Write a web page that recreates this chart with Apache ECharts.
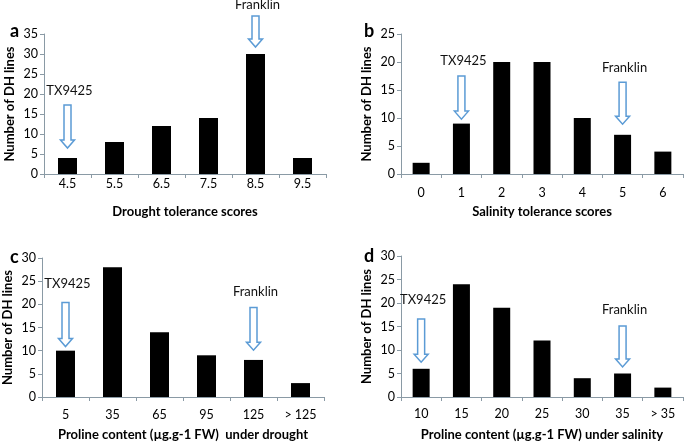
<!DOCTYPE html>
<html>
<head>
<meta charset="utf-8">
<script src="https://cdn.jsdelivr.net/npm/echarts@6/dist/echarts.min.js"></script>
<style>
html,body{margin:0;padding:0;background:#fff;}
#chart{width:685px;height:442px;}
</style>
</head>
<body>
<div id="chart"></div>
<script>
// ---- data ----
const catsA = ['4.5', '5.5', '6.5', '7.5', '8.5', '9.5'];
const valsA = [4, 8, 12, 14, 30, 4];
const catsB = ['0', '1', '2', '3', '4', '5', '6'];
const valsB = [2, 9, 20, 20, 10, 7, 4];
const catsC = ['5', '35', '65', '95', '125', '> 125'];
const valsC = [10, 28, 14, 9, 8, 3];
const catsD = ['10', '15', '20', '25', '30', '35', '> 35'];
const valsD = [6, 24, 19, 12, 4, 5, 2];
const yTicksA = [0, 5, 10, 15, 20, 25, 30, 35];
const yTicksB = [0, 5, 10, 15, 20, 25];
const yTicksC = [0, 5, 10, 15, 20, 25, 30];
const yTicksD = [0, 5, 10, 15, 20, 25, 30];
// annotation arrows: [category index, tip value, tail value, label value]
const arrowLabels = ['TX9425', 'Franklin'];
const arrowsA = [[0, 6.5, 17.25, 20.75], [4, 31.75, 39.5, 42.25]];
const arrowsB = [[1, 9.8, 17.5, 20.2], [5, 8.9, 16.4, 18.9]];
const arrowsC = [[0, 10.9, 20.4, 24.4], [4, 10.1, 19.3, 22.7]];
const arrowsD = [[0, 7.4, 16.6, 20.6], [5, 6.4, 15.1, 18.5]];
const xTitles = ['Drought tolerance scores', 'Salinity tolerance scores',
  'Proline content (\u00b5g.g-1 FW)  under drought', 'Proline content (\u00b5g.g-1 FW) under salinity'];
const yTitle = 'Number of DH lines';
const panelLetters = ['a', 'b', 'c', 'd'];

// ---- chart ----
const FONT = 'Lato, "Open Sans", sans-serif';
const AXIS_COLOR = '#8a9aa5';
const ARROW_COLOR = '#5b9bd5';

const panels = [
  {cats: catsA, vals: valsA, ticks: yTicksA, arrows: arrowsA, grid: {left: 44, top: 34, width: 282, height: 140}, barW: 19, lblMargin: 3},
  {cats: catsB, vals: valsB, ticks: yTicksB, arrows: arrowsB, grid: {left: 401, top: 34, width: 282, height: 140}, barW: 17, lblMargin: 12},
  {cats: catsC, vals: valsC, ticks: yTicksC, arrows: arrowsC, grid: {left: 42, top: 258, width: 282, height: 140}, barW: 19, lblMargin: 11},
  {cats: catsD, vals: valsD, ticks: yTicksD, arrows: arrowsD, grid: {left: 401, top: 256, width: 282, height: 141}, barW: 17, lblMargin: 10}
];
const letterPos = [[5, 17], [359, 17], [5, 243], [359, 242]];

function arrowRender(params, api) {
  const idx = api.value(0);
  const tip = api.coord([idx, api.value(1)]);
  const tail = api.coord([idx, api.value(2)]);
  const lab = api.coord([idx, api.value(3)]);
  const x = tip[0];
  const ty = tip[1], hy = tip[1] - 8, sy = tail[1];
  return {
    type: 'group',
    children: [
      {
        type: 'polygon',
        shape: {points: [[x - 3.5, sy], [x + 3.5, sy], [x + 3.5, hy], [x + 7, hy], [x, ty], [x - 7, hy], [x - 3.5, hy]]},
        style: {fill: '#fff', stroke: ARROW_COLOR, lineWidth: 1.5}
      },
      {
        type: 'text',
        style: {text: arrowLabels[params.dataIndex], x: x + 2, y: lab[1], align: 'center', verticalAlign: 'middle',
          font: '13px ' + FONT, fill: '#111'}
      }
    ]
  };
}

const option = {
  backgroundColor: '#fff',
  animation: false,
  title: panelLetters.map((t, i) => ({text: t, left: letterPos[i][0], top: letterPos[i][1],
    textStyle: {fontFamily: FONT, fontSize: 18, fontWeight: 'bold', color: '#000'}})),
  grid: panels.map(p => p.grid),
  xAxis: panels.map((p, i) => ({
    type: 'category', gridIndex: i, data: p.cats, boundaryGap: true,
    name: xTitles[i], nameLocation: 'middle', nameGap: 31,
    nameTextStyle: {fontFamily: FONT, fontSize: 13, fontWeight: 'bold', color: '#000'},
    axisLine: {lineStyle: {color: AXIS_COLOR, width: 1}},
    axisTick: {show: true, alignWithLabel: false, inside: false, length: 4, lineStyle: {color: AXIS_COLOR}},
    axisLabel: {margin: p.lblMargin, fontFamily: FONT, fontSize: 12.5, color: '#000'},
    splitLine: {show: false}
  })),
  yAxis: panels.map((p, i) => ({
    type: 'value', gridIndex: i, min: 0, max: p.ticks[p.ticks.length - 1], interval: p.ticks[1] - p.ticks[0],
    name: yTitle, nameLocation: 'middle', nameGap: 28,
    nameTextStyle: {fontFamily: FONT, fontSize: 13, fontWeight: 'bold', color: '#000'},
    axisLine: {show: true, lineStyle: {color: AXIS_COLOR, width: 1}},
    axisTick: {show: true, inside: false, length: 4, lineStyle: {color: AXIS_COLOR}},
    axisLabel: {margin: 6, fontFamily: FONT, fontSize: 12.5, color: '#000'},
    splitLine: {show: false}
  })),
  series: [].concat(
    panels.map((p, i) => ({
      type: 'bar', xAxisIndex: i, yAxisIndex: i, data: p.vals, barWidth: p.barW,
      itemStyle: {color: '#000'}, silent: true
    })),
    panels.map((p, i) => ({
      type: 'custom', xAxisIndex: i, yAxisIndex: i, data: p.arrows, renderItem: arrowRender,
      encode: {x: 0, y: 1}, clip: false, silent: true, z: 5
    }))
  )
};

const chart = echarts.init(document.getElementById('chart'), null, {renderer: 'canvas'});
chart.setOption(option);
</script>
</body>
</html>
